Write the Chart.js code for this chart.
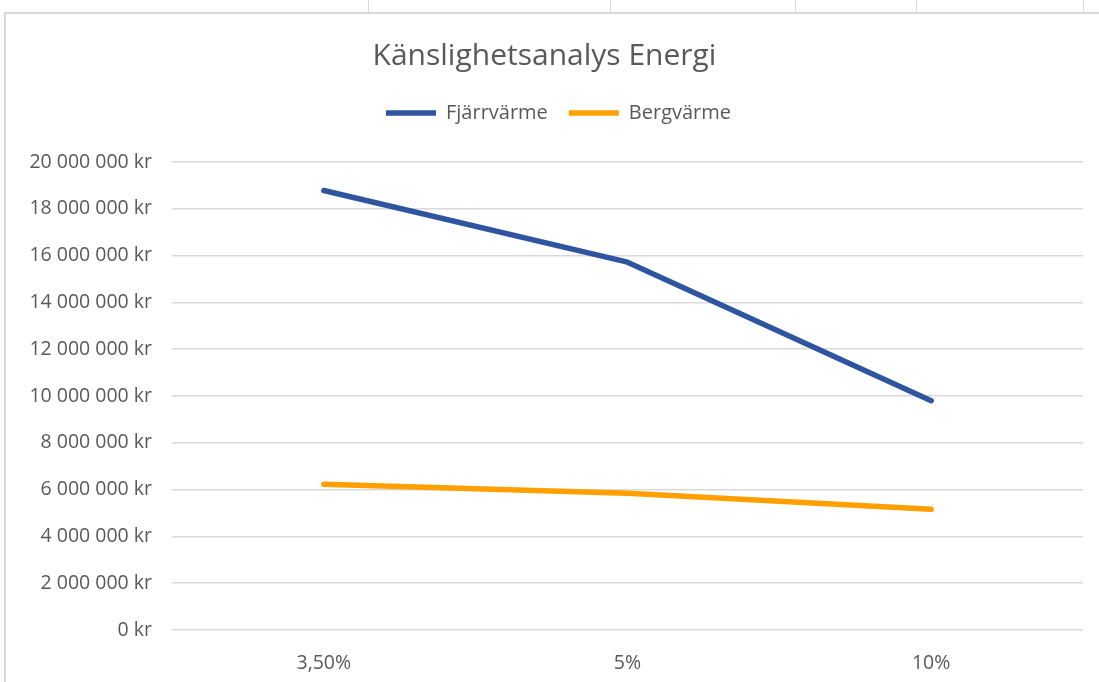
<!DOCTYPE html>
<html>
<head>
<meta charset="utf-8">
<script src="https://cdn.jsdelivr.net/npm/chart.js@4"></script>
<style>
  html, body { margin: 0; padding: 0; background: #fff; }
  body { width: 1099px; height: 682px; position: relative; overflow: hidden; }
  .frame { position: absolute; left: 4px; top: 12px; right: 0; bottom: 0;
           border-left: 2px solid #d9d9d9; border-top: 2px solid #d9d9d9; }
  .cell { position: absolute; top: 0; width: 1px; height: 12px; background: #d9d9d9; }
  .wrap { position: absolute; left: 6px; top: 14px; width: 1093px; height: 668px; }
</style>
</head>
<body>
<div class="frame"></div>
<div class="cell" style="left:368px"></div>
<div class="cell" style="left:610px"></div>
<div class="cell" style="left:795px"></div>
<div class="cell" style="left:916px"></div>
<div class="cell" style="left:1083px"></div>
<div class="wrap"><canvas id="c"></canvas></div>
<script>
  // Känslighetsanalys Energi
  var categories = ['3,50%', '5%', '10%'];
  var fjarrvarme = [18780000, 15720000, 9800000];
  var bergvarme = [6230000, 5840000, 5160000];
  var yTicks = [0, 2000000, 4000000, 6000000, 8000000, 10000000, 12000000, 14000000, 16000000, 18000000, 20000000];

  var FONT = '"Open Sans", sans-serif';
  var GREY = '#595959';

  function kr(v) {
    return String(v).replace(/\B(?=(\d{3})+(?!\d))/g, ' ') + ' kr';
  }

  // extra space under the legend, and nudge it right like Excel does
  var legendGap = {
    id: 'legendGap',
    beforeInit: function (chart) {
      var fit = chart.legend.fit;
      chart.legend.fit = function () {
        fit.bind(chart.legend)();
        this.height += 29;
      };
    },
    afterLayout: function (chart) {
      chart.legend.left += 14;
      chart.legend.right += 14;
    }
  };

  new Chart(document.getElementById('c').getContext('2d'), {
    type: 'line',
    plugins: [legendGap],
    data: {
      labels: categories,
      datasets: [{
        label: 'Fjärrvärme',
        data: fjarrvarme,
        borderColor: '#2f55a0',
        backgroundColor: '#2f55a0',
        borderWidth: 5.5,
        borderCapStyle: 'round',
        borderJoinStyle: 'round',
        pointRadius: 0,
        tension: 0
      }, {
        label: 'Bergvärme',
        data: bergvarme,
        borderColor: '#ffa000',
        backgroundColor: '#ffa000',
        borderWidth: 5.5,
        borderCapStyle: 'round',
        borderJoinStyle: 'round',
        pointRadius: 0,
        tension: 0
      }]
    },
    options: {
      responsive: true,
      maintainAspectRatio: false,
      animation: false,
      layout: { padding: { top: 0, right: 16, bottom: 0, left: 0 } },
      plugins: {
        title: {
          display: true,
          text: 'Känslighetsanalys Energi',
          color: GREY,
          font: { family: FONT, size: 30, weight: 'normal' },
          padding: { top: 24, bottom: 8 }
        },
        legend: {
          labels: {
            color: GREY,
            font: { family: FONT, size: 20 },
            usePointStyle: true,
            pointStyle: 'line',
            pointStyleWidth: 50,
            padding: 21
          }
        },
        tooltip: { enabled: false }
      },
      scales: {
        x: {
          offset: true,
          grid: { display: false },
          border: { display: false },
          ticks: { color: GREY, font: { family: FONT, size: 19.5 }, padding: 14 },
          afterFit: function (s) { s.height = 52; }
        },
        y: {
          min: 0,
          max: 20000000,
          afterBuildTicks: function (s) { s.ticks = yTicks.map(function (v) { return { value: v }; }); },
          grid: { color: '#d9d9d9', lineWidth: 1.5, drawTicks: false },
          border: { display: false },
          ticks: { color: GREY, font: { family: FONT, size: 19.5 }, padding: 20, callback: function (v) { return kr(v); } },
          afterFit: function (s) { s.width = 166; }
        }
      }
    }
  });
</script>
</body>
</html>
